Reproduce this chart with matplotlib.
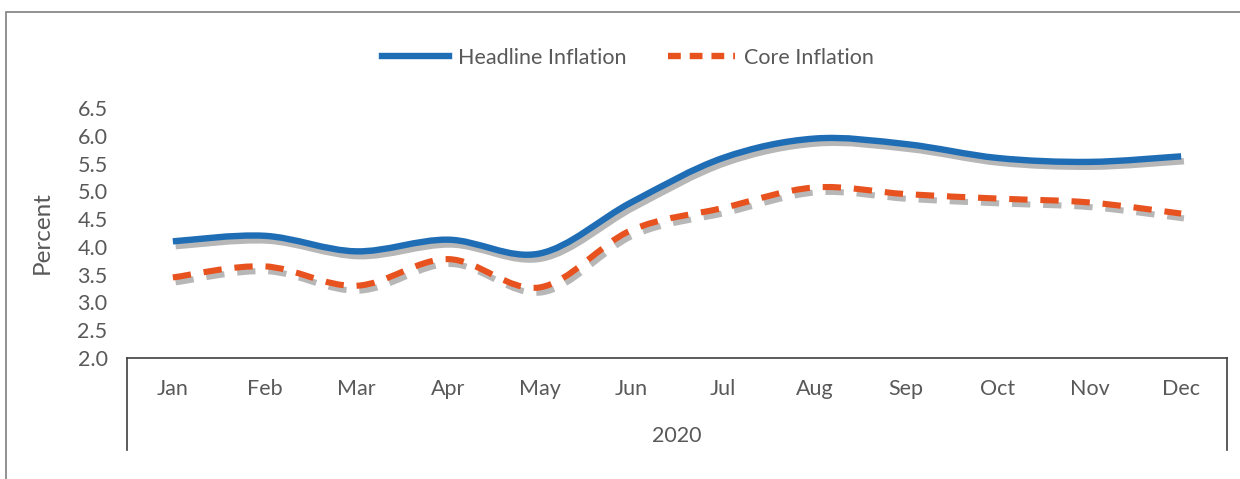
import numpy as np
import matplotlib.pyplot as plt
from matplotlib.path import Path
from matplotlib.patches import PathPatch, Rectangle
from matplotlib.lines import Line2D
import matplotlib.patheffects as pe

plt.rcParams['font.family'] = ['Lato', 'DejaVu Sans']

months = ['Jan', 'Feb', 'Mar', 'Apr', 'May', 'Jun', 'Jul', 'Aug', 'Sep', 'Oct', 'Nov', 'Dec']
headline = [4.1, 4.2, 3.92, 4.13, 3.88, 4.8, 5.6, 5.95, 5.85, 5.6, 5.53, 5.63]
core = [3.45, 3.65, 3.3, 3.78, 3.27, 4.3, 4.7, 5.07, 4.95, 4.87, 4.8, 4.6]
year = '2020'

blue = '#1F6DB5'
red = '#E8521F'
grey = '#595959'


def smooth_path(ys):
    # Excel-like smoothed line: Catmull-Rom segments as cubic Bezier curves
    p = np.column_stack([np.arange(len(ys)), ys]).astype(float)
    ext = np.vstack([p[0], p, p[-1]])
    verts = [p[0]]
    codes = [Path.MOVETO]
    for i in range(len(p) - 1):
        p0, p1, p2, p3 = ext[i], ext[i + 1], ext[i + 2], ext[i + 3]
        verts += [p1 + (p2 - p0) / 6, p2 - (p3 - p1) / 6, p2]
        codes += [Path.CURVE4] * 3
    return Path(verts, codes)


fig = plt.figure(figsize=(12.4, 4.79), dpi=100)
fig.patches.append(Rectangle((6 / 1240, -0.1), 1.2, 1 - 12 / 479 + 0.1, transform=fig.transFigure,
                             fill=False, edgecolor='#7f7f7f', linewidth=1.2))

ax = fig.add_axes([127 / 1240, 1 - 358 / 479, 1100 / 1240, 250 / 479])

shadow = [pe.SimpleLineShadow(offset=(2, -3.5), shadow_color='#555555', alpha=0.42), pe.Normal()]

ax.add_patch(PathPatch(smooth_path(headline), fill=False, edgecolor=blue, linewidth=4.6,
                       capstyle='butt', path_effects=shadow, zorder=3))
ax.add_patch(PathPatch(smooth_path(core), fill=False, edgecolor=red, linewidth=4.4,
                       linestyle=(0, (3.0, 2.1)), capstyle='butt', path_effects=shadow, zorder=3))

ax.set_xlim(-0.5, len(months) - 0.5)
ax.set_ylim(2.0, 6.5)
ax.set_yticks(np.arange(2.0, 6.51, 0.5))
ax.set_yticklabels([f'{v:.1f}' for v in np.arange(2.0, 6.51, 0.5)])
ax.set_xticks(range(len(months)))
ax.set_xticklabels(months)
ax.tick_params(axis='both', length=0, labelsize=15.5, colors=grey)
ax.tick_params(axis='y', pad=14)
ax.tick_params(axis='x', pad=15)

for s in ['top', 'right', 'left']:
    ax.spines[s].set_visible(False)
ax.spines['bottom'].set_color('#404040')
ax.spines['bottom'].set_linewidth(1.2)

# multi-level category axis frame
for xa in (0, 1):
    ax.add_line(Line2D([xa, xa], [0, -92 / 250], transform=ax.transAxes, color='#404040',
                       linewidth=1.2, clip_on=False))
ax.text(0.5, -78 / 250, year, transform=ax.transAxes, ha='center', va='center',
        fontsize=15.5, color=grey)

ax.set_ylabel('Percent', fontsize=17.5, color=grey, labelpad=18)

handles = [Line2D([], [], color=blue, linewidth=4.6),
           Line2D([], [], color=red, linewidth=4.6, linestyle=(0, (2.0, 1.4)))]
fig.legend(handles, ['Headline Inflation', 'Core Inflation'], loc='center',
           bbox_to_anchor=(628 / 1240, 1 - 58 / 479), ncol=2, frameon=False,
           fontsize=15.5, handlelength=3.1, handletextpad=0.45, columnspacing=1.9,
           labelcolor=grey)

fig.savefig('out.png', dpi=100)
